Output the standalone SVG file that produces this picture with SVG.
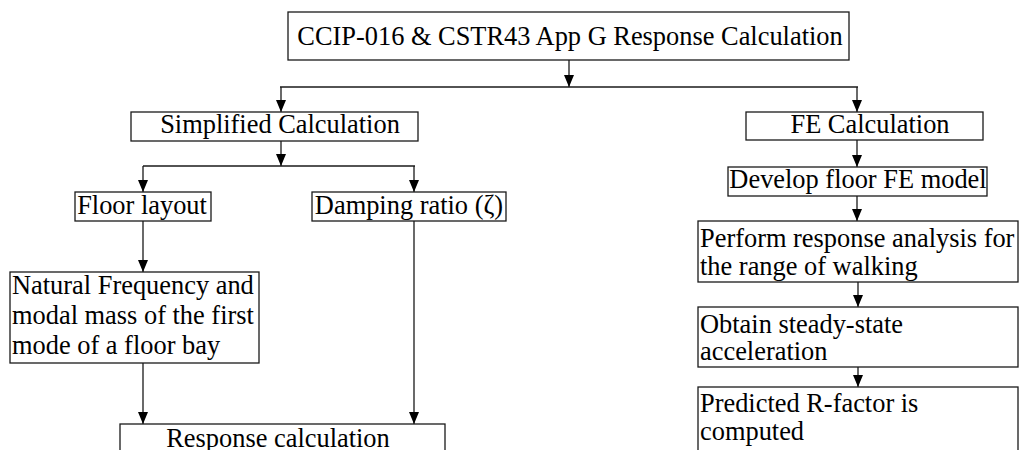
<svg xmlns="http://www.w3.org/2000/svg" width="1019" height="450" viewBox="0 0 1019 450">
  <style>
    .box { fill: #ffffff; stroke: #1a1a1a; stroke-width: 1.3; }
    .lbl { font-family: "Liberation Serif", "Times New Roman", serif; font-size: 26.4px; fill: #000000; }
    .mid { text-anchor: middle; }
    .conn { fill: none; stroke: #1a1a1a; stroke-width: 1.3; }
  </style>
  <defs>
    <marker id="arrow" markerUnits="userSpaceOnUse" markerWidth="12" markerHeight="10" refX="12" refY="5" orient="auto">
      <path d="M0,0 L12,5 L0,10 z" fill="#000000"/>
    </marker>
  </defs>
  <rect width="1019" height="450" fill="#ffffff"/>

  <!-- connectors -->
  <g id="connectors">
    <line class="conn" x1="569" y1="60" x2="569" y2="87" marker-end="url(#arrow)"/>
    <line class="conn" x1="280" y1="87" x2="858" y2="87"/>
    <line class="conn" x1="281" y1="87" x2="281" y2="112" marker-end="url(#arrow)"/>
    <line class="conn" x1="857" y1="87" x2="857" y2="112" marker-end="url(#arrow)"/>
    <line class="conn" x1="281" y1="141" x2="281" y2="166" marker-end="url(#arrow)"/>
    <line class="conn" x1="143" y1="166" x2="415" y2="166"/>
    <line class="conn" x1="143" y1="166" x2="143" y2="192" marker-end="url(#arrow)"/>
    <line class="conn" x1="414" y1="166" x2="414" y2="192" marker-end="url(#arrow)"/>
    <line class="conn" x1="143" y1="221" x2="143" y2="272" marker-end="url(#arrow)"/>
    <line class="conn" x1="414" y1="221" x2="414" y2="424" marker-end="url(#arrow)"/>
    <line class="conn" x1="143" y1="363" x2="143" y2="424" marker-end="url(#arrow)"/>
    <line class="conn" x1="857" y1="140" x2="857" y2="167" marker-end="url(#arrow)"/>
    <line class="conn" x1="857" y1="196" x2="857" y2="221" marker-end="url(#arrow)"/>
    <line class="conn" x1="858" y1="282" x2="858" y2="307" marker-end="url(#arrow)"/>
    <line class="conn" x1="858" y1="367" x2="858" y2="387" marker-end="url(#arrow)"/>
  </g>

  <!-- nodes -->
  <g id="node-root">
    <rect class="box" x="288" y="12" width="561" height="48"/>
    <text class="lbl mid" x="570" y="45">CCIP-016 &amp; CSTR43 App G Response Calculation</text>
  </g>
  <g id="node-simplified">
    <rect class="box" x="131" y="112" width="287" height="29"/>
    <text class="lbl mid" x="280" y="133">Simplified Calculation</text>
  </g>
  <g id="node-fe">
    <rect class="box" x="746" y="112" width="237" height="28"/>
    <text class="lbl mid" x="870" y="133">FE Calculation</text>
  </g>
  <g id="node-floor-layout">
    <rect class="box" x="75" y="192" width="136" height="29"/>
    <text class="lbl mid" x="142" y="214">Floor layout</text>
  </g>
  <g id="node-damping">
    <rect class="box" x="312" y="192" width="194" height="29"/>
    <text class="lbl mid" x="409" y="214">Damping ratio (ζ)</text>
  </g>
  <g id="node-natural-frequency">
    <rect class="box" x="10" y="272" width="249" height="91"/>
    <text class="lbl" x="12" y="294">Natural Frequency and</text>
    <text class="lbl" x="12" y="324">modal mass of the first</text>
    <text class="lbl" x="12" y="354">mode of a floor bay</text>
  </g>
  <g id="node-response">
    <rect class="box" x="120" y="424" width="325" height="40"/>
    <text class="lbl mid" x="278" y="447">Response calculation</text>
  </g>
  <g id="node-develop-model">
    <rect class="box" x="728" y="167" width="259" height="29"/>
    <text class="lbl mid" x="858" y="188">Develop floor FE model</text>
  </g>
  <g id="node-response-analysis">
    <rect class="box" x="698" y="221" width="320" height="61"/>
    <text class="lbl" x="700" y="247">Perform response analysis for</text>
    <text class="lbl" x="700" y="275">the range of walking</text>
  </g>
  <g id="node-steady-state">
    <rect class="box" x="698" y="307" width="320" height="60"/>
    <text class="lbl" x="700" y="333">Obtain steady-state</text>
    <text class="lbl" x="700" y="360">acceleration</text>
  </g>
  <g id="node-r-factor">
    <rect class="box" x="698" y="387" width="320" height="80"/>
    <text class="lbl" x="700" y="412">Predicted R-factor is</text>
    <text class="lbl" x="700" y="440">computed</text>
  </g>
</svg>
